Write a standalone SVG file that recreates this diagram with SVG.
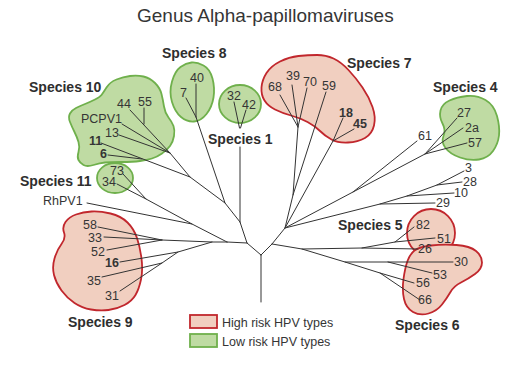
<svg xmlns="http://www.w3.org/2000/svg" width="517" height="367" viewBox="0 0 517 367">
<style>
text{font-family:"Liberation Sans",Arial,Helvetica,sans-serif;fill:#353535}
.t{font-size:19px}
.sp{font-size:14px;font-weight:bold;fill:#2e2e2e}
.n{font-size:12.5px}
.b{font-weight:bold}
.hi{fill:#f1cfc0;stroke:#c1272d;stroke-width:1.8}
.lo{fill:#bfdba3;stroke:#6fb04c;stroke-width:1.8}
.br{stroke:#333;stroke-width:1;fill:none;stroke-linecap:round}
.lg{font-size:12.5px}
</style>
<rect width="517" height="367" fill="#fff"/>
<text class="t" x="137" y="22">Genus Alpha-papillomaviruses</text>

<g id="species10"><path class="lo" d="M101.5,95 Q103,93 106.5,87.5 Q110,82 116.5,79.5 Q123,77 130,76 Q137,75 143.5,76.5 Q150,78 155,83 Q160,88 161.5,94 Q163,100 164,106.5 Q165,113 168.5,117.5 Q172,122 173.5,126 Q175,130 174,136 Q173,142 170,146 Q167,150 162,153.5 Q157,157 152,158.5 Q147,160 140,161 Q133,162 121.5,162 Q110,162 105,162.5 Q100,163 93.5,165 Q87,167 83.5,165 Q80,163 78.5,160 Q77,157 78.5,152 Q80,147 78.5,142 Q77,137 74.5,132 Q72,127 70,122 Q68,117 70,113.5 Q72,110 76,108 Q80,106 85,104 Q90,102 95,99.5 Q100,97 101.5,95 Z"/></g>
<g id="species8"><path class="lo" d="M191.5,62.5 Q197,62 203.5,65.5 Q210,69 212.5,78.5 Q215,88 213.5,97.5 Q212,107 206.5,114 Q201,121 194,121.5 Q187,122 181,117 Q175,112 172,102 Q169,92 172,81.5 Q175,71 180.5,67 Q186,63 191.5,62.5 Z"/></g>
<g id="species1"><ellipse class="lo" cx="240" cy="104" rx="21" ry="19"/></g>
<g id="species11"><ellipse class="lo" cx="115" cy="178" rx="18" ry="15"/></g>
<g id="species4"><path class="lo" d="M440.5,110.5 Q442,104 449.5,100.5 Q457,97 467,96 Q477,95 485.5,100 Q494,105 497,116 Q500,127 499,135.5 Q498,144 493,151 Q488,158 479,159.5 Q470,161 460,157.5 Q450,154 445.5,148 Q441,142 443.5,136 Q446,130 442.5,123.5 Q439,117 440.5,110.5 Z"/></g>
<g id="species7"><path class="hi" d="M264.5,100.5 Q261,95 261.5,87.5 Q262,80 266.5,73 Q271,66 280,61.5 Q289,57 298.5,56 Q308,55 317,55 Q326,55 333.5,58.5 Q341,62 348.5,70 Q356,78 362.5,87.5 Q369,97 372.5,107 Q376,117 374,125.5 Q372,134 365,138 Q358,142 348,142.5 Q338,143 331.5,139.5 Q325,136 320,131 Q315,126 307.5,122 Q300,118 291,115.5 Q282,113 275,109.5 Q268,106 264.5,100.5 Z"/></g>
<g id="species9"><path class="hi" d="M91.5,211.5 Q100,211 110.5,213.5 Q121,216 127.5,222.5 Q134,229 137,238 Q140,247 141.5,258.5 Q143,270 141,279.5 Q139,289 135.5,295 Q132,301 124.5,305 Q117,309 108.5,310 Q100,311 91,309.5 Q82,308 74.5,303 Q67,298 61.5,290.5 Q56,283 54,275 Q52,267 54.5,258.5 Q57,250 61.5,244 Q66,238 64,232.5 Q62,227 65.5,222 Q69,217 76,214.5 Q83,212 91.5,211.5 Z"/></g>
<g id="species5"><ellipse class="hi" cx="431" cy="233" rx="24" ry="24"/></g>
<g id="species6"><path class="hi" d="M414.5,250.5 Q419,247 431,245.5 Q443,244 456.5,245 Q470,246 476,251 Q482,256 482,262.5 Q482,269 475,274 Q468,279 461,282.5 Q454,286 450.5,292 Q447,298 442,304.5 Q437,311 428.5,313.5 Q420,316 413,312 Q406,308 404,299 Q402,290 403.5,279 Q405,268 407.5,261 Q410,254 414.5,250.5 Z"/></g>

<g id="connectors" class="br">
<path d="M261,255V302M261,255L247,243M261,255L272,244"/>
<path d="M247,243L227,242M247,243L240,222M240,222V147M234,102L239.5,128M246,110L240.5,128"/>
<path d="M240,222L225,203L196,117M196,84V117M186,98L196,117"/>
<path d="M225,203L190,177L170,153L130,110M144,108V124M170,153L122,124M170,153L119,135M190,177L101,143M108,155L142,159"/>
<path d="M227,242L192,224L87,203M192,224L146,199L123,174M146,199L117,184"/>
<path d="M227,242L212,242L162,240L98,227M162,240L104,237M162,240L107,250M212,242L178,252L120,262M178,252L162,263L102,277M162,263L120,291"/>
<path d="M272,244L285,228L293,195L298,127L280,95M298,127L292,85M298,127L307,88M293,195L326,92"/>
<path d="M285,228L333,141L343,118M333,141L354,129"/>
<path d="M285,228L353,192L417,141M353,192L425,154L457,118M425,154L463,128M425,154L467,143"/>
<path d="M285,228L380,204L435,203M380,204L407,196L454,193M407,196L437,185L464,171M437,185L462,182"/>
<path d="M272,244L302,249L362,248L418,249M362,248L395,242L414,227M395,242L435,238"/>
<path d="M302,249L345,262L453,262M388,262L432,273M345,262L380,273L414,283M380,273L420,300"/>
</g>

<g id="labels">
<text class="sp" x="162" y="58">Species 8</text>
<text class="sp" x="29" y="92">Species 10</text>
<text class="sp" x="208" y="144">Species 1</text>
<text class="sp" x="20" y="186">Species 11</text>
<text class="sp" x="347" y="68">Species 7</text>
<text class="sp" x="433" y="92">Species 4</text>
<text class="sp" x="338" y="230">Species 5</text>
<text class="sp" x="68" y="327">Species 9</text>
<text class="sp" x="395" y="330">Species 6</text>

<text class="n" x="117" y="108">44</text>
<text class="n" x="138" y="106">55</text>
<text class="n" x="81" y="123">PCPV1</text>
<text class="n" x="105" y="137">13</text>
<text class="n b" x="89" y="145">11</text>
<text class="n b" x="100" y="158">6</text>
<text class="n" x="190" y="82">40</text>
<text class="n" x="180" y="97">7</text>
<text class="n" x="227" y="100">32</text>
<text class="n" x="242" y="109">42</text>
<text class="n" x="110" y="175">73</text>
<text class="n" x="102" y="186">34</text>
<text class="n" x="43" y="205">RhPV1</text>
<text class="n" x="83" y="229">58</text>
<text class="n" x="88" y="242">33</text>
<text class="n" x="91" y="256">52</text>
<text class="n b" x="105" y="267">16</text>
<text class="n" x="87" y="285">35</text>
<text class="n" x="105" y="300">31</text>
<text class="n" x="268" y="91">68</text>
<text class="n" x="286" y="80">39</text>
<text class="n" x="303" y="86">70</text>
<text class="n" x="322" y="90">59</text>
<text class="n b" x="339" y="117">18</text>
<text class="n b" x="353" y="128">45</text>
<text class="n" x="418" y="140">61</text>
<text class="n" x="457" y="117">27</text>
<text class="n" x="465" y="132">2a</text>
<text class="n" x="468" y="147">57</text>
<text class="n" x="465" y="172">3</text>
<text class="n" x="463" y="186">28</text>
<text class="n" x="454" y="197">10</text>
<text class="n" x="436" y="207">29</text>
<text class="n" x="416" y="229">82</text>
<text class="n" x="437" y="243">51</text>
<text class="n" x="418" y="253">26</text>
<text class="n" x="454" y="266">30</text>
<text class="n" x="433" y="279">53</text>
<text class="n" x="416" y="287">56</text>
<text class="n" x="418" y="304">66</text>
</g>

<g id="legend">
<rect class="hi" x="190" y="315" width="27" height="13"/>
<rect class="lo" x="190" y="334" width="27" height="13"/>
<text class="lg" x="222" y="327">High risk HPV types</text>
<text class="lg" x="222" y="346">Low risk HPV types</text>
</g>
</svg>
